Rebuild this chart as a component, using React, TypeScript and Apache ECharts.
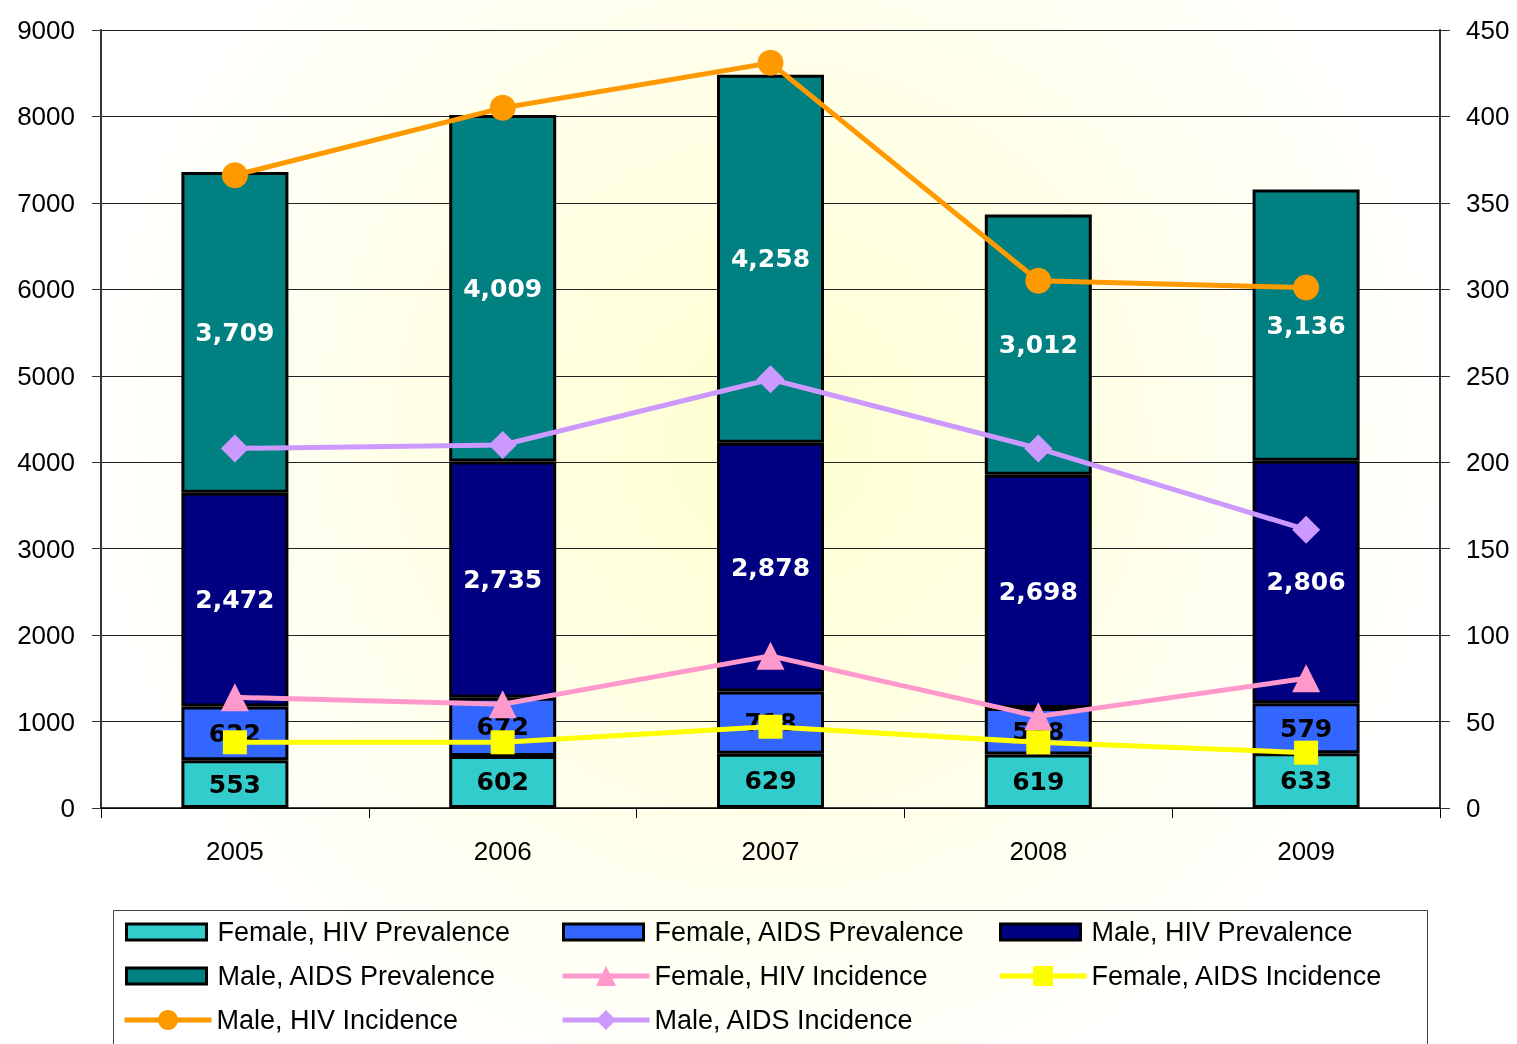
import React, { useEffect, useRef } from "react";
import * as echarts from "echarts";

const years = ["2005", "2006", "2007", "2008", "2009"];
const femaleHivPrev = [553, 602, 629, 619, 633];
const femaleAidsPrev = [622, 672, 718, 538, 579];
const maleHivPrev = [2472, 2735, 2878, 2698, 2806];
const maleAidsPrev = [3709, 4009, 4258, 3012, 3136];
const femaleHivInc = [64, 60, 88, 53, 75];
const femaleAidsInc = [38, 38, 47, 38, 32];
const maleHivInc = [366, 405, 431, 305, 301];
const maleAidsInc = [208, 210, 248, 208, 161];

const FONT = "Liberation Sans, Arial, sans-serif";

export default function App() {
  const ref = useRef<HTMLDivElement>(null);
  useEffect(() => {
    if (!ref.current) return;
    const chart = echarts.init(ref.current, null, { renderer: "svg" });

    const barLabel = (color: string) => ({
      show: true,
      position: "inside",
      color,
      fontFamily: "DejaVu Sans",
      fontWeight: "bold",
      fontSize: 25,
      formatter: (p: any) => Number(p.value).toLocaleString("en-US"),
    });

    const bar = (name: string, data: number[], color: string, labelColor: string) => ({
      name,
      type: "bar",
      stack: "total",
      data,
      barWidth: 107,
      itemStyle: { color, borderColor: "#000", borderWidth: 3 },
      label: barLabel(labelColor),
      z: 2,
    });

    const line = (name: string, data: number[], color: string, symbol: string, size: number) => ({
      name,
      type: "line",
      yAxisIndex: 1,
      data,
      symbol,
      symbolSize: size,
      lineStyle: { color, width: 5 },
      itemStyle: { color },
      z: 5,
    });

    const legendText = { fontFamily: FONT, fontSize: 27, lineHeight: 27, color: "#000" };

    const barLegend = (name: string, left: number, center: number) => ({
      data: [{ name, icon: "rect" }],
      left,
      top: center - 13.5,
      padding: 0,
      itemWidth: 80,
      itemHeight: 16,
      selectedMode: false,
      itemStyle: { borderColor: "#000", borderWidth: 3 },
      textStyle: { ...legendText, padding: [0, 0, 0, 6] },
    });
    const lineLegend = (name: string, left: number, center: number) => ({
      data: [name],
      left,
      top: center - 13.5,
      padding: 0,
      itemWidth: 87,
      itemHeight: 25,
      selectedMode: false,
      lineStyle: { width: 5 },
      textStyle: { ...legendText },
    });

    chart.setOption({
      animation: false,
      textStyle: { fontFamily: FONT },
      grid: { left: 101, right: 77, top: 30, bottom: 236, containLabel: false },
      graphic: [
        {
          type: "rect",
          z: -100,
          silent: true,
          shape: { x: 0, y: 0, width: 1517, height: 1044 },
          style: {
            fill: {
              type: "radial",
              x: 770,
              y: 440,
              r: 700,
              global: true,
              colorStops: [
                { offset: 0, color: "#FFFFD0" },
                { offset: 1, color: "#FFFFFF" },
              ],
            },
          },
        },
        {
          type: "rect",
          z: 10,
          silent: true,
          shape: { x: 113.5, y: 910.5, width: 1314, height: 200 },
          style: { fill: "none", stroke: "#444", lineWidth: 1 },
        },
      ],
      legend: [
        barLegend("Female, HIV Prevalence", 125, 932),
        barLegend("Female, AIDS Prevalence", 562, 932),
        barLegend("Male, HIV Prevalence", 999, 932),
        barLegend("Male, AIDS Prevalence", 125, 976),
        lineLegend("Female, HIV Incidence", 560, 976),
        lineLegend("Female, AIDS Incidence", 997, 976),
        lineLegend("Male, HIV Incidence", 122, 1020),
        lineLegend("Male, AIDS Incidence", 560, 1020),
      ],
      xAxis: {
        type: "category",
        data: years,
        boundaryGap: true,
        axisLine: { lineStyle: { color: "#000", width: 1.5 } },
        axisTick: { show: true, length: 10, lineStyle: { color: "#000" } },
        axisLabel: { fontSize: 26, color: "#000", margin: 30, fontFamily: FONT },
      },
      yAxis: [
        {
          type: "value",
          min: 0,
          max: 9000,
          interval: 1000,
          axisLine: { show: true, lineStyle: { color: "#333", width: 2 } },
          axisTick: { show: true, length: 9, lineStyle: { color: "#333" } },
          axisLabel: {
            fontSize: 26,
            color: "#000",
            margin: 26,
            fontFamily: FONT,
            formatter: (v: number) => String(v),
          },
          splitLine: { show: true, lineStyle: { color: "#222", width: 1 } },
        },
        {
          type: "value",
          min: 0,
          max: 450,
          interval: 50,
          position: "right",
          axisLine: { show: true, lineStyle: { color: "#333", width: 2 } },
          axisTick: { show: true, length: 10, lineStyle: { color: "#333" } },
          axisLabel: {
            fontSize: 26,
            color: "#000",
            margin: 26,
            fontFamily: FONT,
            formatter: (v: number) => String(v),
          },
          splitLine: { show: false },
        },
      ],
      series: [
        bar("Female, HIV Prevalence", femaleHivPrev, "#33CCCC", "#000"),
        bar("Female, AIDS Prevalence", femaleAidsPrev, "#3366FF", "#000"),
        bar("Male, HIV Prevalence", maleHivPrev, "#000080", "#fff"),
        bar("Male, AIDS Prevalence", maleAidsPrev, "#008080", "#fff"),
        line("Female, HIV Incidence", femaleHivInc, "#FF99CC", "triangle", 28),
        line("Female, AIDS Incidence", femaleAidsInc, "#FFFF00", "rect", 24),
        line("Male, HIV Incidence", maleHivInc, "#FF9900", "circle", 26),
        line("Male, AIDS Incidence", maleAidsInc, "#CC99FF", "diamond", 28),
      ],
    });

    return () => chart.dispose();
  }, []);

  return (
    <div
      ref={ref}
      style={{ position: "fixed", left: 0, top: 0, width: 1517, height: 1044 }}
    />
  );
}
